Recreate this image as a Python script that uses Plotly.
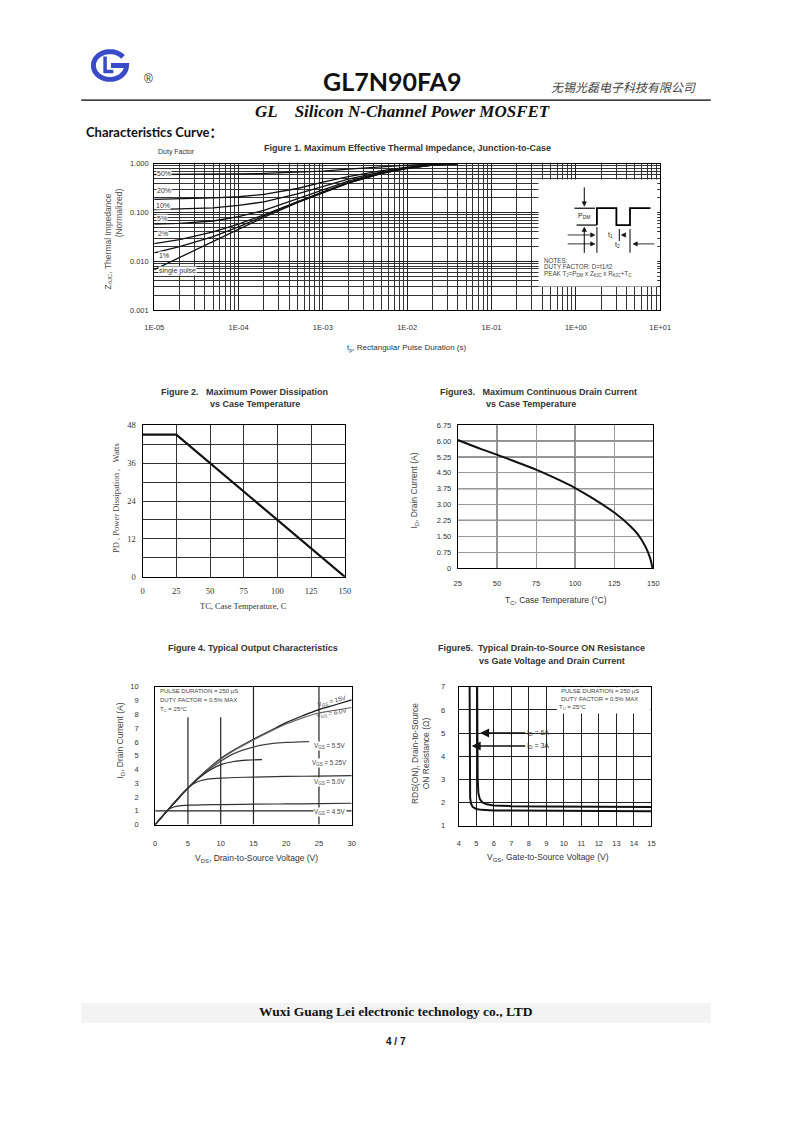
import numpy as np
import plotly.graph_objects as go

# Page is 793x1122; the HTML body keeps its default 8px margin, so the figure is 16px smaller
PAGE_W, PAGE_H = 793, 1122
M = 8
W, H = PAGE_W - 2 * M, PAGE_H - 2 * M
def px(x): return (x - M) / W
def py(y): return 1 - (y - M) / H

ARIAL = "Arial, Liberation Sans, sans-serif"
SERIF = "Times New Roman, Liberation Serif, serif"

# ---------------- Figure 1 data: transient thermal impedance ----------------
t_pulse = [1e-5, 2e-5, 5e-5, 1e-4, 2e-4, 5e-4, 1e-3, 2e-3, 5e-3, 1e-2, 2e-2, 4e-2]
z_50 = [0.60, 0.60, 0.61, 0.62, 0.63, 0.66, 0.70, 0.77, 0.86, 0.93, 0.98, 1.0]
z_20 = [0.185, 0.19, 0.20, 0.21, 0.235, 0.31, 0.42, 0.54, 0.72, 0.85, 0.95, 1.0]
z_10 = [0.115, 0.118, 0.125, 0.14, 0.165, 0.24, 0.34, 0.48, 0.68, 0.83, 0.94, 1.0]
z_5 = [0.058, 0.06, 0.067, 0.082, 0.11, 0.19, 0.29, 0.44, 0.66, 0.82, 0.94, 1.0]
z_2 = [0.023, 0.028, 0.04, 0.058, 0.09, 0.17, 0.265, 0.415, 0.64, 0.81, 0.93, 1.0]
z_1 = [0.015, 0.02, 0.032, 0.051, 0.085, 0.165, 0.255, 0.405, 0.635, 0.80, 0.93, 1.0]
z_single = [0.0068, 0.012, 0.026, 0.046, 0.08, 0.16, 0.25, 0.40, 0.63, 0.80, 0.93, 1.0]
duty_series = [z_50, z_20, z_10, z_5, z_2, z_1, z_single]
duty_labels = ["50%", "20%", "10%", "5%", "2%", "1%", "single pulse"]
t_ticks = [1e-5, 1e-4, 1e-3, 1e-2, 1e-1, 1e0, 1e1]
t_ticktext = ["1E-05", "1E-04", "1E-03", "1E-02", "1E-01", "1E+00", "1E+01"]
z_ticks = [0.001, 0.01, 0.1, 1.0]
z_ticktext = ["0.001", "0.010", "0.100", "1.000"]

# ---------------- Figure 2 data: power dissipation ----------------
tc_pd = [0, 25, 150]
pd_watts = [45, 45, 0]
pd_ticks = [0, 12, 24, 36, 48]
pd_minor = [6, 18, 30, 42]
tc2_ticks = [0, 25, 50, 75, 100, 125, 150]

# ---------------- Figure 3 data: continuous drain current ----------------
tc_id = [25, 40, 50, 60, 75, 90, 100, 110, 125, 135, 140, 145, 148, 149.4]
id_cont = [6.05, 5.62, 5.36, 5.08, 4.65, 4.15, 3.78, 3.35, 2.62, 2.0, 1.6, 1.0, 0.45, 0.0]
id3_ticks = [0, 0.75, 1.5, 2.25, 3.0, 3.75, 4.5, 5.25, 6.0, 6.75]
id3_ticktext = ["0", "0.75", "1.50", "2.25", "3.00", "3.75", "4.50", "5.25", "6.00", "6.75"]
tc3_ticks = [25, 50, 75, 100, 125, 150]

# ---------------- Figure 4 data: output characteristics ----------------
vds_15 = [0, 1, 2, 3, 5, 7.5, 10, 12.5, 15, 17.5, 20, 22.5, 25, 27.5, 30]
id_15 = [0, 0.55, 1.1, 1.6, 2.65, 3.8, 4.8, 5.55, 6.2, 6.8, 7.4, 7.9, 8.35, 8.7, 9.05]
vds_60 = [0, 1, 2, 3, 5, 7.5, 10, 12.5, 15, 17.5, 20, 22.5, 25, 27.5, 30]
id_60 = [0, 0.55, 1.1, 1.6, 2.65, 3.8, 4.75, 5.5, 6.15, 6.75, 7.3, 7.75, 8.1, 8.3, 8.5]
vds_55 = [0, 2, 5, 7.5, 10, 12, 14, 16, 18, 20, 22, 23.5]
id_55 = [0, 1.1, 2.65, 3.75, 4.6, 5.15, 5.5, 5.75, 5.9, 5.97, 6.0, 6.02]
vds_525 = [0, 2, 5, 7, 8.5, 10, 12, 14, 16.3]
id_525 = [0, 1.1, 2.65, 3.5, 4.0, 4.35, 4.58, 4.68, 4.72]
vds_50 = [0, 2, 4, 5, 6, 7, 8, 10, 15, 20, 25, 30]
id_50 = [0, 1.1, 2.2, 2.65, 3.0, 3.2, 3.3, 3.38, 3.45, 3.5, 3.52, 3.55]
vds_45 = [0, 1.5, 2.2, 3, 4, 6, 10, 15, 20, 25, 30]
id_45 = [0, 0.8, 1.15, 1.3, 1.38, 1.42, 1.45, 1.48, 1.5, 1.52, 1.55]
vgs_labels = ["V<sub>GS</sub> = 15V", "V<sub>GS</sub> = 6.0V", "V<sub>GS</sub> = 5.5V",
              "V<sub>GS</sub> = 5.25V", "V<sub>GS</sub> = 5.0V", "V<sub>GS</sub> = 4.5V"]

# ---------------- Figure 5 data: on-resistance vs VGS ----------------
vgs_6a = [5.05, 5.06, 5.08, 5.12, 5.2, 5.35, 5.6, 6.0, 7.0, 9.0, 12.0, 15.0]
rds_6a = [7.0, 5.0, 3.0, 2.4, 2.15, 2.0, 1.92, 1.87, 1.84, 1.83, 1.82, 1.80]
vgs_3a = [4.62, 4.63, 4.65, 4.7, 4.8, 5.0, 5.3, 6.0, 8.0, 11.0, 15.0]
rds_3a = [7.0, 4.0, 2.2, 1.95, 1.8, 1.72, 1.68, 1.65, 1.64, 1.63, 1.62]

fig = go.Figure()
LINE = dict(color="#111", width=1.3)

for z in duty_series:
    fig.add_trace(go.Scatter(x=t_pulse, y=z, mode="lines", line=LINE, xaxis="x", yaxis="y",
                             hoverinfo="skip"))
fig.add_trace(go.Scatter(x=tc_pd, y=pd_watts, mode="lines", line=dict(color="#111", width=2.2),
                         xaxis="x2", yaxis="y2"))
fig.add_trace(go.Scatter(x=tc_id, y=id_cont, mode="lines", line=dict(color="#111", width=2),
                         xaxis="x3", yaxis="y3", line_shape="spline"))
for xs, ys, col in [(vds_15, id_15, "#111"), (vds_60, id_60, "#666"), (vds_55, id_55, "#444"),
                    (vds_525, id_525, "#222"), (vds_50, id_50, "#333"), (vds_45, id_45, "#333")]:
    fig.add_trace(go.Scatter(x=xs, y=ys, mode="lines", line=dict(color=col, width=1.2),
                             xaxis="x4", yaxis="y4", line_shape="spline"))
fig.add_trace(go.Scatter(x=vgs_6a, y=rds_6a, mode="lines", line=dict(color="#111", width=2),
                         xaxis="x5", yaxis="y5"))
fig.add_trace(go.Scatter(x=vgs_3a, y=rds_3a, mode="lines", line=dict(color="#111", width=2),
                         xaxis="x5", yaxis="y5"))

def ax_common(**kw):
    d = dict(showline=True, linecolor="black", linewidth=1, mirror=True, ticks="",
             zeroline=False, tickfont=dict(family=ARIAL, size=7.5, color="#333"))
    d.update(kw)
    return d

minor_t = [m * 10.0 ** e for e in range(-5, 1) for m in range(2, 10)]
minor_z = [m * 10.0 ** e for e in range(-3, 0) for m in range(2, 10)]

layout = dict(
    width=W, height=H, margin=dict(l=0, r=0, t=0, b=0), autosize=False,
    paper_bgcolor="white", plot_bgcolor="white", showlegend=False,
    xaxis=ax_common(type="log", range=[-5, 1], domain=[px(148), px(668)], anchor="y",
                    tickmode="array", tickvals=t_ticks, ticktext=t_ticktext,
                    showgrid=True, gridcolor="#222", gridwidth=1.3, ticklabelstandoff=10,
                    minor=dict(tickmode="array", tickvals=minor_t, showgrid=True,
                               gridcolor="#333", gridwidth=1)),
    yaxis=ax_common(type="log", range=[-3, 0], domain=[py(308), py(160)], anchor="x",
                    tickmode="array", tickvals=z_ticks, ticktext=z_ticktext,
                    showgrid=True, gridcolor="#222", gridwidth=1.3, ticklabelstandoff=3,
                    minor=dict(tickmode="array", tickvals=minor_z, showgrid=True,
                               gridcolor="#333", gridwidth=1)),
    xaxis2=ax_common(range=[0, 150], domain=[px(136), px(344)], anchor="y2",
                     tickmode="array", tickvals=tc2_ticks, showgrid=True, gridcolor="#333",
                     tickfont=dict(family=SERIF, size=8.5, color="#333"), ticklabelstandoff=6),
    yaxis2=ax_common(range=[0, 48], domain=[py(577), py(424)], anchor="x2",
                     tickmode="array", tickvals=pd_ticks,
                     showgrid=True, gridcolor="#333",
                     minor=dict(tickmode="array", tickvals=pd_minor, showgrid=True,
                                gridcolor="#333", gridwidth=1),
                     tickfont=dict(family=SERIF, size=8.5, color="#333"), ticklabelstandoff=4),
    xaxis3=ax_common(range=[25, 150], domain=[px(460), px(661)], anchor="y3",
                     tickmode="array", tickvals=tc3_ticks, showgrid=True, gridcolor="#999",
                     ticklabelstandoff=8),
    yaxis3=ax_common(range=[0, 6.75], domain=[py(568), py(424)], anchor="x3",
                     tickmode="array", tickvals=id3_ticks, ticktext=id3_ticktext,
                     showgrid=True, gridcolor="#999", ticklabelstandoff=4),
    xaxis4=ax_common(range=[0, 30], domain=[px(149), px(351)], anchor="y4",
                     tickmode="linear", tick0=0, dtick=5, showgrid=False, ticklabelstandoff=11),
    yaxis4=ax_common(range=[0, 10], domain=[py(827), py(688)], anchor="x4",
                     tickmode="linear", tick0=0, dtick=1, showgrid=False, ticklabelstandoff=14),
    xaxis5=ax_common(range=[4, 15], domain=[px(461), px(659)], anchor="y5",
                     tickmode="linear", tick0=4, dtick=1, showgrid=True, gridcolor="#222",
                     ticklabelstandoff=10),
    yaxis5=ax_common(range=[1, 7], domain=[py(828), py(688)], anchor="x5",
                     tickmode="linear", tick0=1, dtick=1, showgrid=True, gridcolor="#222",
                     ticklabelstandoff=11),
)
fig.update_layout(**layout)

shapes = []
ann = []

def txt(x, y, s, size=8, color="#333", family=ARIAL, xa="center", ya="middle", angle=0, **kw):
    d = dict(x=px(x), y=py(y), xref="paper", yref="paper", text=s, showarrow=False,
             font=dict(size=size, color=color, family=family), xanchor=xa, yanchor=ya,
             textangle=angle)
    d.update(kw)
    ann.append(d)

def pline(x0, y0, x1, y1, color="black", width=1):
    shapes.append(dict(type="line", xref="paper", yref="paper", x0=px(x0), y0=py(y0),
                       x1=px(x1), y1=py(y1), line=dict(color=color, width=width)))

def ppath(points, color="black", width=1, fill=None, close=False):
    p = "M " + " L ".join(f"{px(a):.5f},{py(b):.5f}" for a, b in points)
    if close:
        p += " Z"
    d = dict(type="path", xref="paper", yref="paper", path=p, line=dict(color=color, width=width))
    if fill:
        d["fillcolor"] = fill
    shapes.append(d)

def tri(tip, direction, size=4.5):
    x, y = tip
    h = size / 2
    if direction == "down":
        pts = [(x - h, y - size), (x + h, y - size), (x, y)]
    elif direction == "up":
        pts = [(x - h, y + size), (x + h, y + size), (x, y)]
    elif direction == "right":
        pts = [(x - size, y - h), (x - size, y + h), (x, y)]
    else:
        pts = [(x + size, y - h), (x + size, y + h), (x, y)]
    ppath(pts, color="#111", width=0.5, fill="#111", close=True)

# ---------------- Header ----------------
cx, cy, rx, ry = 102.5, 61, 17, 14
th = np.radians(np.linspace(38, 360, 60))
g_pts = [(cx + rx * np.cos(a), cy - ry * np.sin(a)) for a in th] + [(cx + 1, cy)]
ppath(g_pts, color="#3a4bc9", width=5)
ppath([(97.5, 52), (97.5, 67), (106, 67)], color="#3a4bc9", width=3.5)
txt(142, 75, "®", size=12, color="#333")
txt(392, 77, "<b>GL7N90FA9</b>", size=25, color="#111", family="Lato, Open Sans, sans-serif")
txt(707, 82, "<i>无锡光磊电子科技有限公司</i>", size=12, color="#444",
    family="Noto Sans CJK SC, sans-serif", xa="right")
pline(73, 96, 720, 96, width=1.2)
txt(403, 107, "<b><i>GL\u00a0\u00a0\u00a0\u00a0Silicon N-Channel Power MOSFET</i></b>", size=17,
    color="#111", family=SERIF)
txt(76, 128, "<b>Characteristics Curve：</b>", size=13, color="#111",
    family="Lato, Open Sans, Noto Sans CJK SC, sans-serif", xa="left")

# ---------------- Figure 1 texts and inset ----------------
txt(408, 144, "<b>Figure 1. Maximum Effective Thermal Impedance, Junction-to-Case</b>", size=9,
    color="#333")
txt(150, 148, "Duty Factor", size=7, color="#333", xa="left")
lab_pos = [(158, 170), (158, 187), (157, 202), (156, 215), (157, 231), (158, 253), (152, 268)]
for (lx, ly), s in zip(lab_pos, duty_labels):
    txt(lx, ly, s, size=7, color="#333", xa="left" if s == "single pulse" else "center",
        bgcolor="white", borderpad=0)
txt(101, 238, "Z<sub>θJC</sub>, Thermal Impedance", size=8.5, color="#555", angle=-90)
txt(112, 210, "(Normalized)", size=8.5, color="#555", angle=-90)
txt(408, 346, "t<sub>p</sub>, Rectangular Pulse Duration (s)", size=8, color="#333")

shapes.append(dict(type="rect", xref="paper", yref="paper", x0=px(543), x1=px(665),
                   y0=py(284), y1=py(176), fillcolor="white", line=dict(width=0), layer="above"))
pline(580, 205, 601, 205, width=1.2)
pline(582, 222, 603, 222, width=1.2)
ppath([(603, 222), (603, 205), (623, 205), (623, 222), (637, 222), (637, 205), (658, 205)],
      width=1.8)
pline(590, 184, 590, 199, width=1)
tri((590, 203), "down")
pline(590, 228, 590, 250, width=1)
tri((590, 224), "up")
pline(603, 224, 603, 250, width=1)
pline(626, 226, 626, 238, width=1)
pline(637, 226, 637, 250, width=1)
pline(573, 232, 597, 232, width=0.8)
tri((601, 232), "right")
pline(573, 241, 597, 241, width=0.8)
tri((601, 241), "right")
tri((628, 232), "left")
pline(644, 241, 662, 241, width=0.8)
tri((640, 241), "left")
txt(590, 213, "P<sub>DM</sub>", size=7, color="#222")
txt(617, 232, "t<sub>1</sub>", size=7, color="#222")
txt(624, 242, "t<sub>2</sub>", size=7, color="#222")
txt(547, 258, "NOTES:", size=6.3, color="#444", xa="left")
txt(547, 264, "DUTY FACTOR: D=t1/t2", size=6.3, color="#444", xa="left")
txt(547, 271, "PEAK T<sub>J</sub>=P<sub>DM</sub> x Z<sub>θJC</sub> x R<sub>θJC</sub>+T<sub>C</sub>",
    size=6.3, color="#444", xa="left")

# ---------------- Figure 2 texts ----------------
txt(153, 390, "<b>Figure 2.\u00a0\u00a0\u00a0Maximum Power Dissipation</b>", size=9, color="#333", xa="left")
txt(203, 403, "<b>vs Case Temperature</b>", size=9, color="#333", xa="left")
txt(108, 497, "PD , Power Dissipation ,\u00a0\u00a0\u00a0Watts", size=8.5, color="#444",
    family=SERIF, angle=-90)
txt(240, 606, "TC, Case Temperature, C", size=8.5, color="#333", family=SERIF)

# ---------------- Figure 3 texts and dark grid ----------------
txt(440, 390, "<b>Figure3.\u00a0\u00a0\u00a0Maximum Continuous Drain Current</b>", size=9, color="#333", xa="left")
txt(487, 403, "<b>vs Case Temperature</b>", size=9, color="#333", xa="left")
txt(416, 490, "I<sub>D</sub>, Drain Current (A)", size=8.5, color="#444", angle=-90)
txt(561, 601, "T<sub>C</sub>, Case Temperature (°C)", size=8.5, color="#333")
for xv in [50, 100]:
    shapes.append(dict(type="line", xref="x3", yref="y3", x0=xv, x1=xv, y0=0, y1=6.75,
                       line=dict(color="#222", width=1.2), layer="below"))
for yv in [6.0, 5.25, 3.75, 2.25]:
    shapes.append(dict(type="line", xref="x3", yref="y3", x0=25, x1=150, y0=yv, y1=yv,
                       line=dict(color="#222", width=1.2), layer="below"))

# ---------------- Figure 4 texts and sparse grid ----------------
txt(250, 649, "<b>Figure 4. Typical Output Characteristics</b>", size=9, color="#333")
txt(113, 742, "I<sub>D</sub>, Drain Current (A)", size=8.5, color="#444", angle=-90)
txt(253, 861, "V<sub>DS</sub>, Drain-to-Source Voltage (V)", size=8.5, color="#333")
for xv, ytop in [(5, 7.8), (10, 7.8), (15, 10), (25, 10)]:
    shapes.append(dict(type="line", xref="x4", yref="y4", x0=xv, x1=xv, y0=0, y1=ytop,
                       line=dict(color="#222", width=1.2), layer="below"))
shapes.append(dict(type="line", xref="x4", yref="y4", x0=0, x1=30, y0=1, y1=1,
                   line=dict(color="#222", width=1.2), layer="below"))
txt(152, 692, "PULSE DURATION = 250 μS", size=6, color="#444", xa="left")
txt(152, 701, "DUTY FACTOR = 0.5% MAX", size=6, color="#444", xa="left")
txt(152, 711, "T<sub>C</sub> = 25°C", size=6, color="#444", xa="left")
for (lx, ly, ang), s in zip([(331, 702, -14), (331, 714, -10), (329, 748, 0), (328, 765, 0),
                             (329, 784, 0), (329, 814, 0)], vgs_labels):
    txt(lx, ly, s, size=6.3, color="#444", angle=ang, bgcolor="white" if ang == 0 else None,
        borderpad=0)

# ---------------- Figure 5 texts ----------------
txt(438, 649, "<b>Figure5.\u00a0\u00a0Typical Drain-to-Source ON Resistance</b>", size=9, color="#333", xa="left")
txt(480, 662, "<b>vs Gate Voltage and Drain Current</b>", size=9, color="#333", xa="left")
txt(421, 755, "RDS(ON), Drain-to-Source<br>ON Resistance (Ω)", size=8.5, color="#444", angle=-90)
txt(553, 860, "V<sub>GS</sub>, Gate-to-Source Voltage (V)", size=8.5, color="#333")
shapes.append(dict(type="rect", xref="x5", yref="y5", x0=9.6, x1=14.95, y0=5.85, y1=6.98,
                   fillcolor="white", line=dict(width=0), layer="above"))
txt(564, 692, "PULSE DURATION = 250 μS", size=6, color="#444", xa="left")
txt(564, 700, "DUTY FACTOR = 0.5% MAX", size=6, color="#444", xa="left")
txt(562, 709, "T<sub>C</sub> = 25°C", size=6, color="#444", xa="left")
for hx, hy, s in [(5.22, 5.0, "I<sub>D</sub> = 6A"), (4.74, 4.44, "I<sub>D</sub> = 3A")]:
    ann.append(dict(x=hx, y=hy, xref="x5", yref="y5", ax=7.8, ay=hy, axref="x5", ayref="y5",
                    text=s, showarrow=True, arrowhead=2, arrowsize=1.2, arrowwidth=1.5,
                    arrowcolor="#111", xanchor="left", yanchor="middle",
                    font=dict(size=7, color="#333", family=ARIAL)))

# ---------------- Footer ----------------
shapes.append(dict(type="rect", xref="paper", yref="paper", x0=px(73), x1=px(720),
                   y0=py(1027), y1=py(1007), fillcolor="#f3f3f3", line=dict(width=0),
                   layer="below"))
txt(397, 1016, "<b>Wuxi Guang Lei electronic technology co., LTD</b>", size=13.5, color="#111",
    family=SERIF)
txt(397, 1046, "<b>4 / 7</b>", size=10, color="#111")

fig.update_layout(shapes=shapes, annotations=ann)
fig.write_html("out.html", config={"displayModeBar": False})
